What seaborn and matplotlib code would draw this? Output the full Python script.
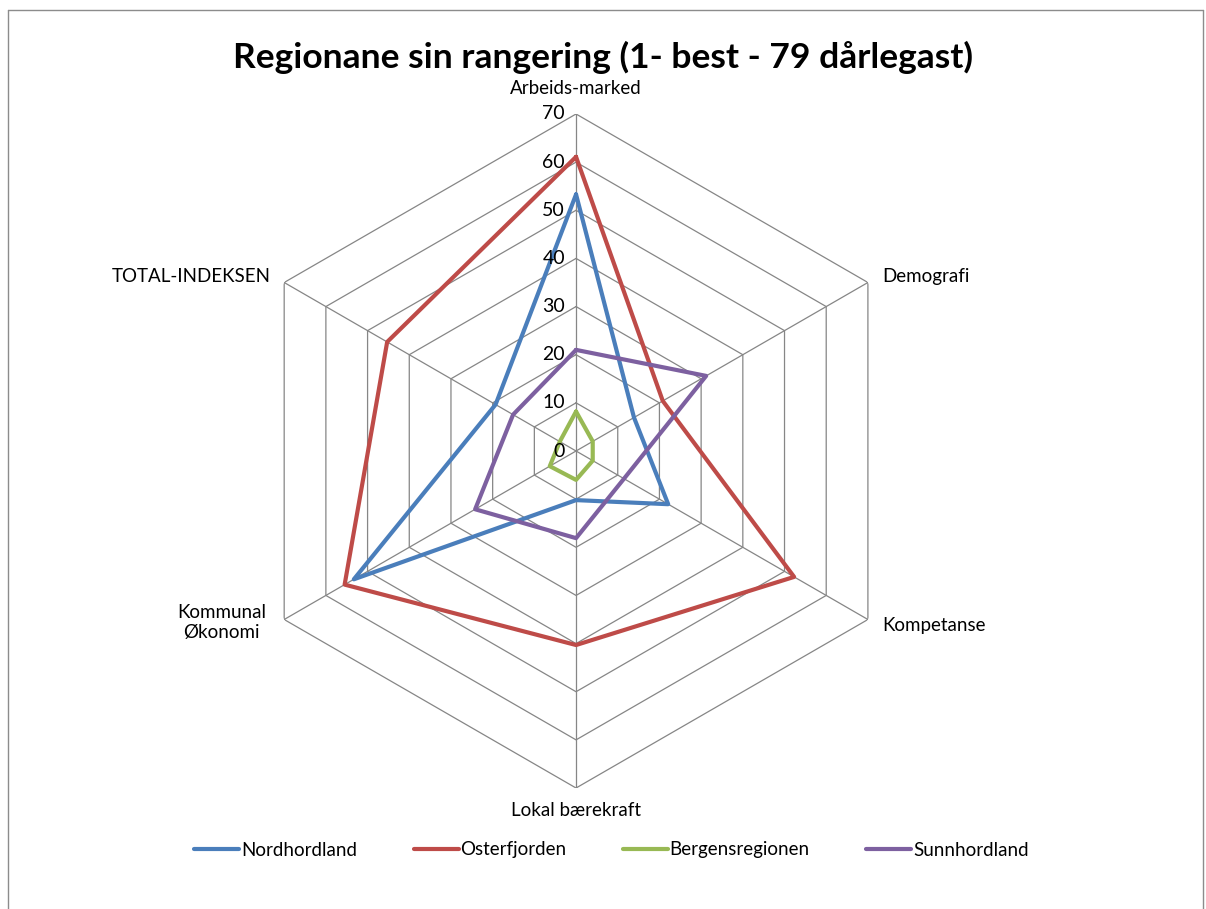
import numpy as np
import pandas as pd
import matplotlib.pyplot as plt
import seaborn as sns

# Kategoriar (med klokka frå toppen)
kategoriar = ['Arbeids-marked', 'Demografi', 'Kompetanse', 'Lokal bærekraft',
              'Kommunal\nØkonomi', 'TOTAL-INDEKSEN']

# Rangering per region
nordhordland = [53.3, 13.9, 22.1, 10.2, 53.3, 19.3]
osterfjorden = [61.1, 20.8, 52.3, 40.3, 55.5, 45.3]
bergensregionen = [8.2, 4.0, 4.0, 6.0, 6.3, 3.9]
sunnhordland = [21.0, 31.2, 11.5, 18.1, 24.2, 15.1]

regionar = ['Nordhordland', 'Osterfjorden', 'Bergensregionen', 'Sunnhordland']
fargar = ['#4A7EBB', '#BE4B48', '#98B954', '#7D60A0']
nivaa = [0, 10, 20, 30, 40, 50, 60, 70]

sns.set_style('white')
plt.rcParams['font.family'] = ['Lato', 'DejaVu Sans']
plt.rcParams['text.color'] = 'black'

n = len(kategoriar)
vinklar = np.linspace(0, 2 * np.pi, n, endpoint=False)
vinklar_lukka = np.append(vinklar, 2 * np.pi)

# Long-format tabell for seaborn, med første punkt gjenteke for å lukke polygonen
rader = []
for namn, verdiar in zip(regionar, [nordhordland, osterfjorden, bergensregionen, sunnhordland]):
    v = list(verdiar) + [verdiar[0]]
    for i, (t, r) in enumerate(zip(vinklar_lukka, v)):
        rader.append({'region': namn, 'theta': t, 'verdi': r, 'steg': i})
df = pd.DataFrame(rader)

fig = plt.figure(figsize=(12.06, 9.09), dpi=100)
ax = fig.add_axes([0.1982, 0.1331, 0.5589, 0.7415], projection='polar')
ax.set_theta_zero_location('N')
ax.set_theta_direction(-1)

# Sekskanta rutenett og eiker
gridfarge = '#868686'
for lvl in nivaa[1:]:
    ax.plot(vinklar_lukka, [lvl] * (n + 1), color=gridfarge, lw=0.9, zorder=1)
for t in vinklar:
    ax.plot([t, t], [0, nivaa[-1]], color=gridfarge, lw=0.9, zorder=1)

sns.lineplot(data=df, x='theta', y='verdi', hue='region', hue_order=regionar,
             palette=fargar, sort=False, estimator=None, linewidth=3.0,
             legend=False, ax=ax, zorder=3)

ax.set_ylim(0, 70)
ax.set_xticks([])
ax.set_yticks([])
ax.grid(False)
ax.spines['polar'].set_visible(False)
ax.set_xlabel('')
ax.set_ylabel('')

# Radielle tal
for lvl in nivaa:
    ax.annotate(str(lvl), xy=(0, lvl), xytext=(-8, 0), textcoords='offset points',
                ha='right', va='center', fontsize=14)

# Kategorietikettar
plasseringar = [((0, 12), 'center', 'bottom'),
                ((10, 4), 'left', 'center'),
                ((10, -4), 'left', 'center'),
                ((0, -10), 'center', 'top'),
                ((-13, -2), 'right', 'center'),
                ((-10, 4), 'right', 'center')]
for t, namn, (off, ha, va) in zip(vinklar, kategoriar, plasseringar):
    ax.annotate(namn, xy=(t, 70), xytext=off, textcoords='offset points',
                ha=ha, va=va, fontsize=13.5, multialignment='center')

fig.text(0.5, 1 - 57 / 909, 'Regionane sin rangering (1- best - 79 dårlegast)',
         ha='center', va='center', fontsize=25.5, fontweight='bold')

handles = [plt.Line2D([], [], color=c, lw=3.0) for c in fargar]
fig.legend(handles, regionar, loc='center', bbox_to_anchor=(0.507, 1 - 850 / 909),
           ncol=4, frameon=False, fontsize=13.5, handlelength=2.4, handletextpad=0.1,
           columnspacing=3.0)

# Ramme rundt diagrammet
for xs, ys in [([0.007, 0.007], [0, 0.989]), ([0.007, 0.9975], [0.989, 0.989]),
               ([0.9975, 0.9975], [0, 0.989])]:
    fig.add_artist(plt.Line2D(xs, ys, transform=fig.transFigure, color='#8c8c8c', lw=1.0))

fig.savefig('out.png', dpi=100)
